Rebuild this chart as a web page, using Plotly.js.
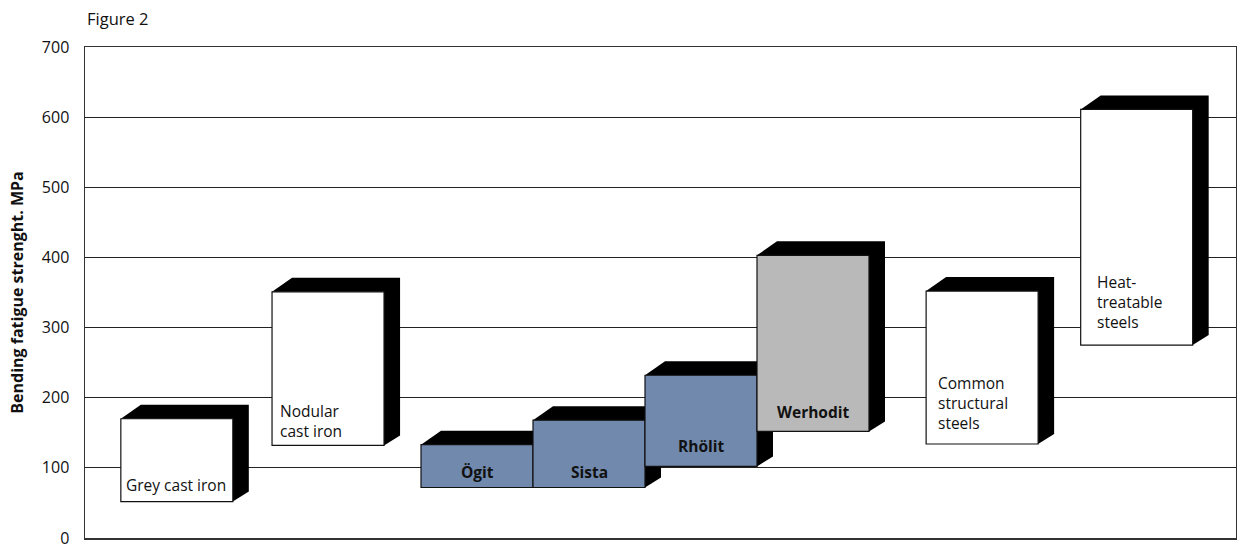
<!DOCTYPE html>
<html>
<head>
<meta charset="utf-8">
<script src="https://cdn.plot.ly/plotly-3.0.1.min.js"></script>
<style>html,body{margin:0;padding:0;background:#fff;}#chart{width:1237px;height:546px;}</style>
</head>
<body>
<div id="chart"></div>
<script>
// ---- data ----
const categories = ['Grey cast iron', 'Nodular<br>cast iron', 'Ögit', 'Sista', 'Rhölit', 'Werhodit',
                    'Common<br>structural<br>steels', 'Heat-<br>treatable<br>steels'];
const xPositions = [0.82, 2.17, 3.5, 4.5, 5.5, 6.5, 8.01, 9.39];
const lowValues  = [52, 132, 72, 72, 102, 152, 134, 275];
const highValues = [170, 351, 133, 168, 232, 403, 352, 611];
const yTickStep = 100;

// ---- style ----
const fillColors = ['#ffffff', '#ffffff', '#7089ad', '#7089ad', '#7089ad', '#b9b9b9', '#ffffff', '#ffffff'];
const labelBold  = [false, false, true, true, true, true, false, false];
const labelLeft  = [true, true, false, false, false, false, true, true];
const labelDx    = [3, 6, 0, 0, 0, 0, 10, 14];
const labelDy    = [17, 24, 16, 16, 20, 19.5, 41, 43];
const FONT = 'Open Sans, Liberation Sans, Arial, sans-serif';

const W = 1237, H = 546;
const M = {l: 85, r: 1, t: 47, b: 8};
const plotW = W - M.l - M.r, plotH = H - M.t - M.b;
const barPx = 112;
const xRange = [0, plotW / barPx];
const yRange = [0, 700];
const xPerPx = (xRange[1] - xRange[0]) / plotW;
const yPerPx = (yRange[1] - yRange[0]) / plotH;
// extrusion depth in pixels
const dxL = 20, dxR = 16, dyT = 14, dyB = 10;

const barWidth = 1;

const bars = {
  type: 'bar',
  x: xPositions,
  base: lowValues,
  y: highValues.map((h, i) => h - lowValues[i]),
  width: barWidth,
  marker: {color: fillColors, line: {color: '#111', width: 1.2}},
  hoverinfo: 'skip',
  showlegend: false,
  cliponaxis: false
};

const shapes = xPositions.map((xc, i) => {
  const L = xc - barWidth / 2, R = xc + barWidth / 2;
  const T = highValues[i], B = lowValues[i];
  const p = [
    [L, T],
    [L + dxL * xPerPx, T + dyT * yPerPx],
    [R + dxR * xPerPx, T + dyT * yPerPx],
    [R + dxR * xPerPx, B + dyB * yPerPx],
    [R, B]
  ];
  return {
    type: 'path', xref: 'x', yref: 'y', layer: 'between',
    path: 'M' + p.map(q => q[0] + ',' + q[1]).join(' L') + ' Z',
    fillcolor: '#000', line: {width: 0}
  };
});

const annotations = categories.map((c, i) => {
  const left = labelLeft[i];
  return {
    xref: 'x', yref: 'y',
    x: left ? xPositions[i] - barWidth / 2 : xPositions[i],
    y: lowValues[i],
    xanchor: left ? 'left' : 'center',
    yanchor: 'middle',
    align: 'left',
    xshift: labelDx[i], yshift: labelDy[i],
    text: labelBold[i] ? '<b>' + c.replace(/<br>/g, '</b><br><b>') + '</b>' : c,
    showarrow: false,
    font: {family: FONT, size: labelBold[i] ? 15.5 : 15.5, color: '#111'}
  };
});
annotations.push({
  xref: 'paper', yref: 'paper', x: 0, xshift: 0, y: 1 + (M.t - 19) / plotH,
  xanchor: 'left', yanchor: 'middle', text: 'Figure 2', showarrow: false,
  font: {family: FONT, size: 16.5, color: '#111'}
});

const layout = {
  width: W, height: H, margin: M,
  paper_bgcolor: '#fff', plot_bgcolor: '#fff',
  showlegend: false,
  xaxis: {range: xRange, autorange: false, showgrid: false, zeroline: false, showticklabels: false, ticks: '',
          showline: true, mirror: true, linecolor: '#333', linewidth: 1.5, fixedrange: true},
  yaxis: {range: yRange, autorange: false, tickmode: 'linear', tick0: 0, dtick: yTickStep,
          showgrid: true, gridcolor: '#222', gridwidth: 1,
          zeroline: false, showline: true, mirror: true, linecolor: '#333', linewidth: 1.5, ticks: '',
          ticklabelstandoff: 11, ticklabeloverflow: 'allow',
          tickfont: {family: FONT, size: 16, color: '#111'},
          title: {text: '<b>Bending fatigue strenght. MPa</b>', font: {family: FONT, size: 16, color: '#111'}, standoff: 14}},
  shapes: shapes,
  annotations: annotations,
  font: {family: FONT}
};

Plotly.newPlot('chart', [bars], layout, {displayModeBar: false, staticPlot: true});
</script>
</body>
</html>
